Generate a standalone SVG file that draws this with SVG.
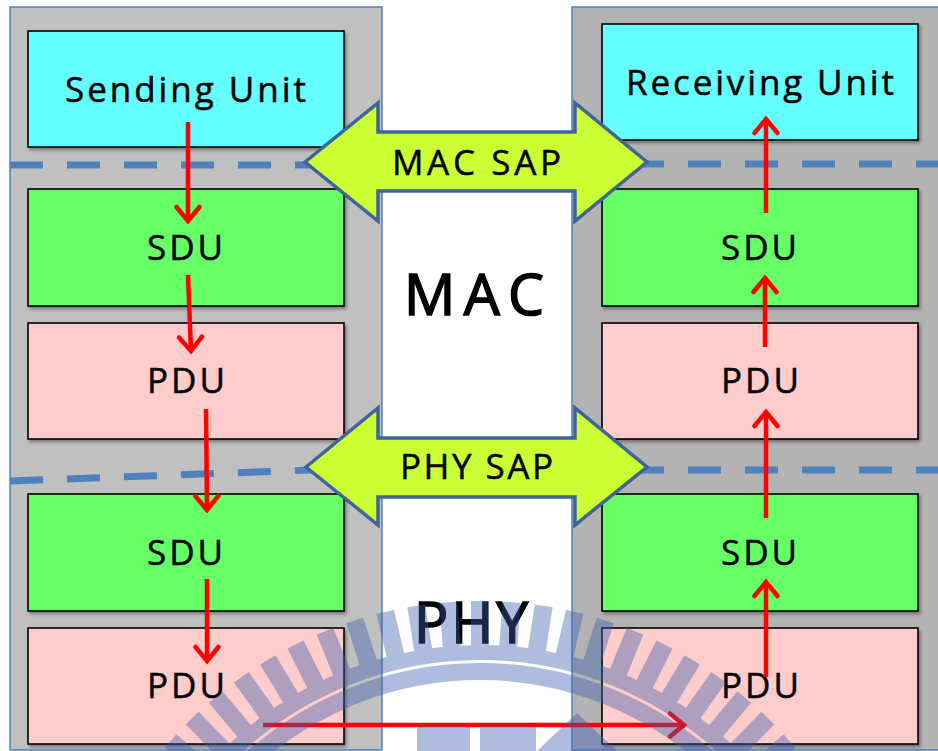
<svg xmlns="http://www.w3.org/2000/svg" width="938" height="751" viewBox="0 0 938 751">
<defs>
<style>
.panel{stroke:#4f81bd;stroke-width:1.5}
.box{stroke:#000;stroke-width:1.6;filter:url(#sh)}
.cyan{fill:#66ffff}
.green{fill:#66ff66}
.pink{fill:#ffcccc}
.lbl{font-family:"Open Sans","Liberation Sans",sans-serif;font-size:35px;fill:#000;stroke:#000;stroke-width:0.5}
.big{font-size:57px;stroke-width:1.6}
.dash{stroke:#4f81bd;stroke-width:7;stroke-dasharray:33 24;fill:none}
.sap{fill:#ccff33;stroke:#3f6597;stroke-width:3.5;stroke-linejoin:miter}
.flow{stroke:#ff0000;stroke-width:4.5;fill:none;marker-end:url(#ah)}
</style>
<filter id="sh" x="-5%" y="-5%" width="115%" height="120%">
<feDropShadow dx="2" dy="2.5" stdDeviation="1.5" flood-color="#000" flood-opacity="0.35"/>
</filter>
<marker id="ah" markerUnits="userSpaceOnUse" markerWidth="40" markerHeight="40" viewBox="-20 -20 40 40" refX="0" refY="0" orient="auto" overflow="visible">
<path d="M-14,-11.5 L0,0 L-14,11.5" fill="none" stroke="#ff0000" stroke-width="4.5" stroke-linecap="round"/>
</marker>
</defs>
<rect width="938" height="751" fill="#ffffff"/>
<g id="left-panel"><rect class="panel" x="10" y="7" width="372" height="743" fill="#c0c0c0"/></g>
<g id="right-panel"><rect class="panel" x="572" y="7" width="372" height="743" fill="#b3b3b3"/></g>
<g id="layer-lines">
<line class="dash" x1="10" y1="165" x2="312" y2="165"/>
<line class="dash" x1="631" y1="164" x2="938" y2="164"/>
<line class="dash" x1="10" y1="481" x2="312" y2="470"/>
<line class="dash" x1="631" y1="470" x2="938" y2="470"/>
</g>
<g id="sending-unit"><rect class="box cyan" x="28" y="31" width="316" height="116"/><text class="lbl" x="65" y="102" textLength="241" lengthAdjust="spacing">Sending Unit</text></g>
<g id="receiving-unit"><rect class="box cyan" x="602" y="24" width="316" height="116"/><text class="lbl" x="626" y="95" textLength="268" lengthAdjust="spacing">Receiving Unit</text></g>
<g id="left-mac-sdu"><rect class="box green" x="28" y="189" width="316" height="117"/><text class="lbl" x="147" y="260" textLength="76" lengthAdjust="spacing">SDU</text></g>
<g id="left-mac-pdu"><rect class="box pink" x="28" y="323" width="316" height="116"/><text class="lbl" x="147" y="393" textLength="78" lengthAdjust="spacing">PDU</text></g>
<g id="left-phy-sdu"><rect class="box green" x="28" y="494" width="316" height="117"/><text class="lbl" x="147" y="565" textLength="76" lengthAdjust="spacing">SDU</text></g>
<g id="left-phy-pdu"><rect class="box pink" x="28" y="628" width="316" height="116"/><text class="lbl" x="147" y="698" textLength="78" lengthAdjust="spacing">PDU</text></g>
<g id="right-mac-sdu"><rect class="box green" x="602" y="189" width="316" height="117"/><text class="lbl" x="721" y="260" textLength="76" lengthAdjust="spacing">SDU</text></g>
<g id="right-mac-pdu"><rect class="box pink" x="602" y="323" width="316" height="116"/><text class="lbl" x="721" y="393" textLength="78" lengthAdjust="spacing">PDU</text></g>
<g id="right-phy-sdu"><rect class="box green" x="602" y="494" width="316" height="117"/><text class="lbl" x="721" y="565" textLength="76" lengthAdjust="spacing">SDU</text></g>
<g id="right-phy-pdu"><rect class="box pink" x="602" y="628" width="316" height="116"/><text class="lbl" x="721" y="698" textLength="78" lengthAdjust="spacing">PDU</text></g>
<g id="mac-label"><text class="lbl big" x="404" y="315" textLength="140" lengthAdjust="spacing">MAC</text></g>
<g id="phy-label"><text class="lbl big" x="414" y="643" textLength="114" lengthAdjust="spacing">PHY</text></g>
<g id="mac-sap"><polygon class="sap" points="305,162 378,103 378,132 575,132 575,103 647,162 575,221 575,191 378,191 378,221"/><text class="lbl" x="392" y="175" textLength="169" lengthAdjust="spacing">MAC SAP</text></g>
<g id="phy-sap"><polygon class="sap" points="306,467 378,408 378,438 575,438 575,408 647,467 575,525 575,497 378,497 378,525"/><text class="lbl" x="400" y="479" textLength="153" lengthAdjust="spacing">PHY SAP</text></g>
<g id="connectors">
<path class="flow" d="M188,122 L188,221"/>
<path class="flow" d="M188,275 L191,351"/>
<path class="flow" d="M206,409 L207,510"/>
<path class="flow" d="M207,579 L207,661"/>
<path class="flow" d="M263,725 L684,725"/>
<path class="flow" d="M766,677 L766,582"/>
<path class="flow" d="M766,518 L766,412"/>
<path class="flow" d="M765,347 L765,278"/>
<path class="flow" d="M766,213 L766,119"/>
</g>
<g id="watermark" opacity="0.41" fill="#3c60af">
<circle cx="480" cy="1013" r="360.5" fill="none" stroke="#3c60af" stroke-width="15"/>
<circle cx="480" cy="1013" r="341.5" fill="none" stroke="#3c60af" stroke-width="17"/>
<g transform="translate(480,1013)">
<rect x="-9" y="-412" width="18" height="47" transform="rotate(-48.7)"/>
<rect x="-9" y="-412" width="18" height="47" transform="rotate(-44.3)"/>
<rect x="-9" y="-412" width="18" height="47" transform="rotate(-39.9)"/>
<rect x="-9" y="-412" width="18" height="47" transform="rotate(-35.4)"/>
<rect x="-9" y="-412" width="18" height="47" transform="rotate(-31)"/>
<rect x="-9" y="-412" width="18" height="47" transform="rotate(-26.6)"/>
<rect x="-9" y="-412" width="18" height="47" transform="rotate(-22.1)"/>
<rect x="-9" y="-412" width="18" height="47" transform="rotate(-17.7)"/>
<rect x="-9" y="-412" width="18" height="47" transform="rotate(-13.3)"/>
<rect x="-9" y="-412" width="18" height="47" transform="rotate(-8.9)"/>
<rect x="-9" y="-412" width="18" height="47" transform="rotate(-4.4)"/>
<rect x="-9" y="-412" width="18" height="47" transform="rotate(0)"/>
<rect x="-9" y="-412" width="18" height="47" transform="rotate(4.4)"/>
<rect x="-9" y="-412" width="18" height="47" transform="rotate(8.9)"/>
<rect x="-9" y="-412" width="18" height="47" transform="rotate(13.3)"/>
<rect x="-9" y="-412" width="18" height="47" transform="rotate(17.7)"/>
<rect x="-9" y="-412" width="18" height="47" transform="rotate(22.1)"/>
<rect x="-9" y="-412" width="18" height="47" transform="rotate(26.6)"/>
<rect x="-9" y="-412" width="18" height="47" transform="rotate(31)"/>
<rect x="-9" y="-412" width="18" height="47" transform="rotate(35.4)"/>
<rect x="-9" y="-412" width="18" height="47" transform="rotate(39.9)"/>
<rect x="-9" y="-412" width="18" height="47" transform="rotate(44.3)"/>
<rect x="-9" y="-412" width="18" height="47" transform="rotate(48.7)"/>
</g>
<rect x="417" y="726" width="53" height="30"/>
<rect x="480" y="726" width="56" height="30"/>
<polygon points="537,751 577,713 617,751"/>
</g>
</svg>
